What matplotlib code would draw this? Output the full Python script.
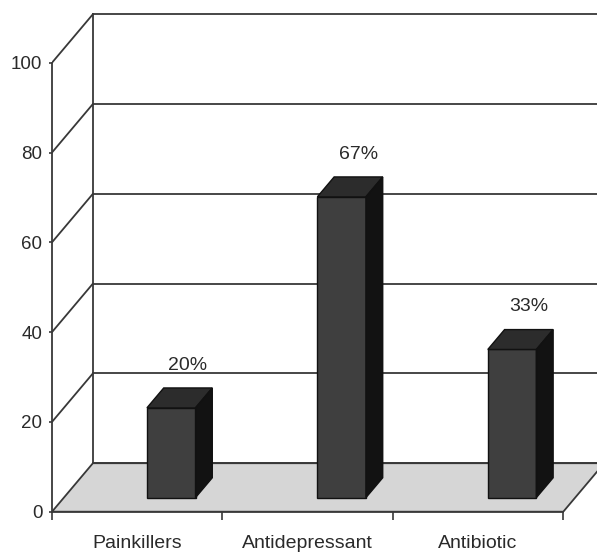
import matplotlib
matplotlib.use("Agg")
import matplotlib.pyplot as plt
from matplotlib.patches import Polygon

plt.rcParams['font.family'] = ['Liberation Sans', 'DejaVu Sans']

categories = ['Painkillers', 'Antidepressant', 'Antibiotic']
values = [20, 67, 33]
value_labels = ['20%', '67%', '33%']
y_ticks = [0, 20, 40, 60, 80, 100]

# oblique depth of the 3D box, in data units (category units, value units)
DX, DY = 0.24, 10.8
BAR_W = 0.285
BAR_SHIFT = 0.13
D0, D1 = 0.29, 0.70          # bar front / back as fraction of the depth

LINE = '#383838'
TEXT = '#2a2a2a'


def proj(x, v, d):
    return (x + d * DX, v + d * DY)


fig = plt.figure(figsize=(5.97, 5.54), dpi=100)
ax = fig.add_axes([52 / 597, 42.3 / 554, 1 - 52 / 597, 511.7 / 554])
n = len(categories)
ax.set_xlim(0, 545 / 170.43)
ax.set_ylim(0, 511.7 / 4.49)

# floor
floor = Polygon([proj(0, 0, 0), proj(n, 0, 0), proj(n, 0, 1), proj(0, 0, 1)],
                closed=True, facecolor='#d6d6d6', edgecolor=LINE, lw=1.3, zorder=1)
ax.add_patch(floor)

# back wall and side wall gridlines
for t in y_ticks:
    x0, y0 = proj(0, t, 1)
    x1, y1 = proj(n, t, 1)
    ax.plot([x0, x1], [y0, y1], color=LINE, lw=1.3, zorder=2, clip_on=True)
    if t > 0:
        xa, ya = proj(0, t, 0)
        ax.plot([xa, x0], [ya, y0], color=LINE, lw=1.3, zorder=2)
bx0, by0 = proj(0, 0, 1)
bx1, by1 = proj(0, y_ticks[-1], 1)
ax.plot([bx0, bx1], [by0, by1], color=LINE, lw=1.3, zorder=2)

# 3D columns: front face as a bar, top and side as polygons
for i, v in enumerate(values):
    c = i + 0.5 + BAR_SHIFT
    xl, xr = c - BAR_W / 2, c + BAR_W / 2
    fx, fy = proj(c, 0, D0)
    ax.bar(fx, v, width=BAR_W, bottom=fy, color='#3f3f3f',
           edgecolor='#111111', lw=1.0, zorder=4)
    top = Polygon([proj(xl, v, D0), proj(xr, v, D0), proj(xr, v, D1), proj(xl, v, D1)],
                  closed=True, facecolor='#2c2c2c', edgecolor='#111111', lw=1.0, zorder=4)
    side = Polygon([proj(xr, 0, D0), proj(xr, 0, D1), proj(xr, v, D1), proj(xr, v, D0)],
                   closed=True, facecolor='#121212', edgecolor='#111111', lw=1.0, zorder=4)
    ax.add_patch(top)
    ax.add_patch(side)
    lx, ly = proj(c, v, D1)
    ax.annotate(value_labels[i], (lx, ly), xytext=(0, 16.5), textcoords='offset points',
                ha='center', va='center', fontsize=14, color=TEXT, zorder=5)

# axes: front vertical value axis and front category axis
for side_name in ['top', 'right']:
    ax.spines[side_name].set_visible(False)
ax.spines['left'].set_bounds(0, 100)
ax.spines['bottom'].set_bounds(0, n)
for side_name in ['left', 'bottom']:
    ax.spines[side_name].set_color(LINE)
    ax.spines[side_name].set_linewidth(1.3)
    ax.spines[side_name].set_zorder(3)

ax.set_yticks(y_ticks)
ax.set_yticklabels([str(t) for t in y_ticks])
ax.tick_params(axis='y', direction='out', length=2.5, width=1.2, color=LINE,
               labelsize=13.5, labelcolor=TEXT, pad=4.5)

ax.set_xticks(range(n + 1))
ax.set_xticklabels([])
ax.set_xticks([i + 0.5 for i in range(n)], minor=True)
ax.set_xticklabels(categories, minor=True)
ax.tick_params(axis='x', which='major', direction='out', length=6, width=1.2, color=LINE)
ax.tick_params(axis='x', which='minor', length=0, labelsize=14, labelcolor=TEXT, pad=17)

fig.savefig('out.png', dpi=100)
